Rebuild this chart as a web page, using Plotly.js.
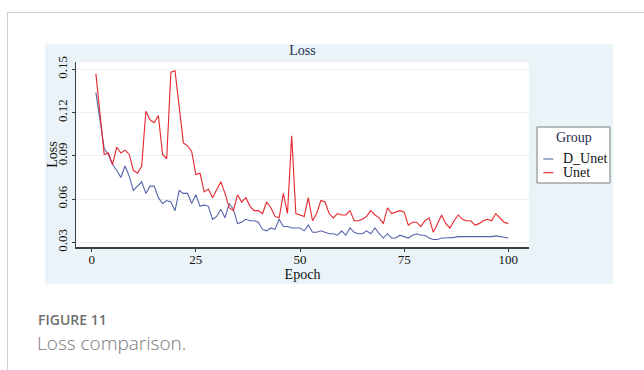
<!DOCTYPE html>
<html>
<head>
<meta charset="utf-8">
<script src="https://cdn.plot.ly/plotly-3.0.1.min.js"></script>
<style>
  html, body { margin: 0; padding: 0; background: #ffffff; width: 644px; height: 370px; overflow: hidden; }
  #frame { position: absolute; left: 7px; top: 12px; width: 700px; height: 420px; border-left: 1px solid #cfcfcf; border-top: 1px solid #cfcfcf; }
  #chart { position: absolute; left: 45px; top: 44px; width: 568px; height: 240px; }
  #figno { position: absolute; left: 38px; top: 313px; line-height: 14px; font-family: "Open Sans", "Noto Sans", sans-serif; font-size: 14px; font-weight: 600; color: #6f6f6f; white-space: nowrap; }
  #figcap { position: absolute; left: 37px; top: 334px; line-height: 19px; font-family: "Open Sans", "Noto Sans", sans-serif; font-size: 19px; font-weight: 300; color: #7a7a7a; white-space: nowrap; }
</style>
</head>
<body>
<div id="frame"></div>
<div id="chart"></div>
<div id="figno">FIGURE 11</div>
<div id="figcap">Loss comparison.</div>
<script>
// ---- data ----
const epochs = [];
for (let i = 1; i <= 100; i++) epochs.push(i);

const seriesNames = ["D_Unet", "Unet"];

const dUnetLoss = [
  0.134, 0.113, 0.095, 0.091, 0.084, 0.080, 0.075, 0.083, 0.076, 0.066,
  0.069, 0.072, 0.064, 0.069, 0.069, 0.061, 0.057, 0.059, 0.058, 0.052,
  0.066, 0.064, 0.064, 0.057, 0.063, 0.055, 0.056, 0.055, 0.046, 0.048,
  0.053, 0.047, 0.057, 0.053, 0.043, 0.044, 0.046, 0.045, 0.045, 0.044,
  0.039, 0.038, 0.040, 0.039, 0.046, 0.041, 0.041, 0.040, 0.040, 0.040,
  0.038, 0.042, 0.037, 0.037, 0.038, 0.037, 0.036, 0.036, 0.035, 0.038,
  0.035, 0.040, 0.037, 0.036, 0.036, 0.038, 0.036, 0.040, 0.036, 0.033,
  0.036, 0.033, 0.033, 0.035, 0.034, 0.033, 0.035, 0.036, 0.035, 0.035,
  0.033, 0.032, 0.032, 0.033, 0.033, 0.033, 0.0335, 0.034, 0.034, 0.034,
  0.034, 0.034, 0.0335, 0.0335, 0.0335, 0.034, 0.0345, 0.034, 0.0335, 0.033
];

const unetLoss = [
  0.147, 0.118, 0.091, 0.092, 0.084, 0.096, 0.092, 0.094, 0.091, 0.080,
  0.078, 0.083, 0.121, 0.115, 0.113, 0.118, 0.091, 0.088, 0.148, 0.149,
  0.123, 0.099, 0.097, 0.093, 0.077, 0.078, 0.065, 0.067, 0.061, 0.067,
  0.072, 0.064, 0.054, 0.052, 0.063, 0.058, 0.061, 0.055, 0.052, 0.052,
  0.050, 0.058, 0.054, 0.048, 0.047, 0.064, 0.050, 0.104, 0.050, 0.049,
  0.048, 0.061, 0.045, 0.050, 0.059, 0.058, 0.050, 0.047, 0.050, 0.049,
  0.049, 0.052, 0.045, 0.045, 0.046, 0.048, 0.052, 0.049, 0.047, 0.043,
  0.054, 0.050, 0.051, 0.052, 0.051, 0.042, 0.044, 0.044, 0.041, 0.045,
  0.047, 0.037, 0.043, 0.049, 0.043, 0.040, 0.045, 0.049, 0.046, 0.045,
  0.045, 0.042, 0.043, 0.045, 0.046, 0.045, 0.050, 0.047, 0.044, 0.043
];

const xTicks = [0, 25, 50, 75, 100];
const yTicks = [0.03, 0.06, 0.09, 0.12, 0.15];
const yTickText = ["0.03", "0.06", "0.09", "0.12", "0.15"];

// ---- styling ----
const colors = ["#5464aa", "#e5262d"];
const serif = "Liberation Serif, Times New Roman, serif";
const axisColor = "#3d3d3d";

const traces = [
  { x: epochs, y: dUnetLoss, name: seriesNames[0], type: "scatter", mode: "lines",
    line: { color: colors[0], width: 1.1 }, showlegend: false },
  { x: epochs, y: unetLoss, name: seriesNames[1], type: "scatter", mode: "lines",
    line: { color: colors[1], width: 1.1 }, showlegend: false }
];

// manual legend (Stata-like compact box)
const lgX0 = 1.0177, lgX1 = 1.1788, lgY0 = 0.3459, lgY1 = 0.6486;
const sampleX0 = 1.0316, sampleX1 = 1.0537, textX = 1.0706;
const entryY = [0.4757, 0.4016];

const shapes = [
  { type: "rect", xref: "paper", yref: "paper", x0: lgX0, x1: lgX1, y0: lgY0, y1: lgY1,
    fillcolor: "#ffffff", line: { color: "#7a7a7a", width: 1 } }
];
const annotations = [
  { xref: "paper", yref: "paper", x: (lgX0 + lgX1) / 2, y: 0.593, text: "Group", showarrow: false,
    xanchor: "center", yanchor: "middle", font: { family: serif, size: 14, color: "#1f2d52" } }
];
seriesNames.forEach((nm, i) => {
  shapes.push({ type: "line", xref: "paper", yref: "paper", x0: sampleX0, x1: sampleX1,
    y0: entryY[i], y1: entryY[i], line: { color: colors[i], width: 1.1 } });
  annotations.push({ xref: "paper", yref: "paper", x: textX, y: entryY[i], text: nm, showarrow: false,
    xanchor: "left", yanchor: "middle", font: { family: serif, size: 14, color: "#111111" } });
});

const layout = {
  width: 568, height: 240,
  margin: { l: 31, r: 84, t: 18, b: 37, pad: 0 },
  paper_bgcolor: "#eaf4f8",
  plot_bgcolor: "#ffffff",
  showlegend: false,
  title: { text: "Loss", x: 0.5, xref: "paper", y: 0.975, yanchor: "middle",
    font: { family: serif, size: 14, color: "#1f2d52" } },
  xaxis: {
    range: [-3.77, 104.97], tickvals: xTicks, ticktext: xTicks.map(String),
    showgrid: false, zeroline: false, showline: true, linecolor: axisColor, linewidth: 1.5,
    ticks: "outside", ticklen: 3, tickwidth: 1, tickcolor: axisColor, ticklabelstandoff: -3,
    tickfont: { family: serif, size: 13, color: "#111111" },
    title: { text: "Epoch", standoff: 1, font: { family: serif, size: 14, color: "#111111" } }
  },
  yaxis: {
    range: [0.0268, 0.1551], tickvals: yTicks, ticktext: yTickText, tickangle: -90,
    showgrid: true, gridcolor: "#e9eff3", gridwidth: 1, zeroline: false,
    showline: true, linecolor: axisColor, linewidth: 1.5,
    ticks: "outside", ticklen: 3, tickwidth: 1, tickcolor: axisColor, ticklabelstandoff: -1,
    tickfont: { family: serif, size: 13, color: "#111111" },
    title: { text: "Loss", standoff: 3, font: { family: serif, size: 14, color: "#111111" } }
  },
  shapes: shapes,
  annotations: annotations
};

Plotly.newPlot("chart", traces, layout, { displayModeBar: false, staticPlot: true });
</script>
</body>
</html>
